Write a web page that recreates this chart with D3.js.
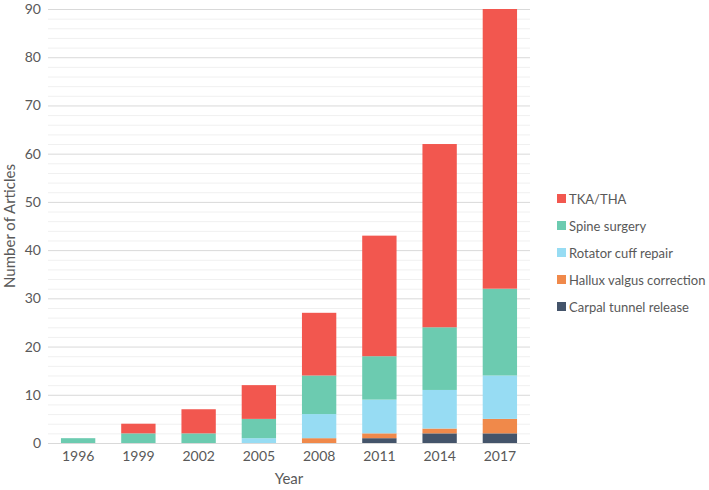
<!DOCTYPE html>
<html><head><meta charset="utf-8">
<script src="https://cdn.jsdelivr.net/npm/d3@7"></script>
<style>body{margin:0;background:#fff}svg{display:block}text{font-family:Lato,"Open Sans",sans-serif}</style>
</head><body><svg id="c" width="709" height="490"></svg>
<script>
const years = ["1996","1999","2002","2005","2008","2011","2014","2017"];
const seriesNames = ["Carpal tunnel release","Hallux valgus correction","Rotator cuff repair","Spine surgery","TKA/THA"];
const carpal   = [0,0,0,0,0,1,2,2];
const hallux   = [0,0,0,0,1,1,1,3];
const rotator  = [0,0,0,1,5,7,8,9];
const spine    = [1,2,2,4,8,9,13,18];
const tka      = [0,2,5,7,13,25,38,58];
const colors   = ["#44546A","#F0894A","#97DCF3","#6CCBB0","#F2574F"];
const yTicks   = [0,10,20,30,40,50,60,70,80,90];

const svg = d3.select("#c");
const m = {l:48,r:179,t:9,b:47};
const W = 709, H = 490;
const x = d3.scaleBand().domain(years).range([m.l, W-m.r]).paddingInner(0.43).paddingOuter(0.215);
const y = d3.scaleLinear().domain([0,90]).range([H-m.b, m.t]);

const minor = d3.range(0,91,2).filter(v=>v%10!==0);
svg.append("g").selectAll("line").data(minor).join("line")
  .attr("x1",m.l).attr("x2",W-m.r).attr("y1",d=>y(d)+0.5).attr("y2",d=>y(d)+0.5)
  .attr("stroke","#f0f0f0").attr("stroke-width",1);
svg.append("g").selectAll("line").data(yTicks).join("line")
  .attr("x1",m.l).attr("x2",W-m.r).attr("y1",d=>y(d)+0.5).attr("y2",d=>y(d)+0.5)
  .attr("stroke","#d9d9d9").attr("stroke-width",1);

const data = years.map((yr,i)=>({year:yr, c:carpal[i], h:hallux[i], r:rotator[i], s:spine[i], t:tka[i]}));
const keys = ["c","h","r","s","t"];
const stacked = d3.stack().keys(keys)(data);
svg.append("g").selectAll("g").data(stacked).join("g").attr("fill",(d,i)=>colors[i])
  .selectAll("rect").data(d=>d).join("rect")
  .attr("x",d=>x(d.data.year)).attr("width",x.bandwidth())
  .attr("y",d=>y(d[1])).attr("height",d=>y(d[0])-y(d[1]));

const ya = svg.append("g").attr("transform",`translate(${m.l},0)`)
  .call(d3.axisLeft(y).tickValues(yTicks).tickSize(0).tickPadding(7));
ya.select(".domain").remove();
ya.selectAll("text").attr("font-size",14).attr("fill","#595959").style("font-family","Lato,'Open Sans',sans-serif");

const xa = svg.append("g").attr("transform",`translate(0,${H-m.b})`)
  .call(d3.axisBottom(x).tickSize(0).tickPadding(8));
xa.select(".domain").remove();
xa.selectAll("text").attr("font-size",14).attr("fill","#595959").style("font-family","Lato,'Open Sans',sans-serif");

svg.append("text").attr("x",(m.l+W-m.r)/2).attr("y",484).attr("text-anchor","middle")
  .attr("font-size",15).attr("fill","#595959").text("Year");
svg.append("text").attr("transform",`translate(15,${(m.t+H-m.b)/2}) rotate(-90)`).attr("text-anchor","middle")
  .attr("font-size",15).attr("fill","#595959").text("Number of Articles");

const legendItems = seriesNames.map((n,i)=>({n, c:colors[i]})).reverse();
const lg = svg.append("g").selectAll("g").data(legendItems).join("g")
  .attr("transform",(d,i)=>`translate(557,${199+i*27})`);
lg.append("rect").attr("x",0).attr("y",-5).attr("width",9).attr("height",9).attr("fill",d=>d.c);
lg.append("text").attr("x",12).attr("y",0).attr("dy","0.35em").attr("font-size",13).attr("fill","#595959").text(d=>d.n);
</script></body></html>
